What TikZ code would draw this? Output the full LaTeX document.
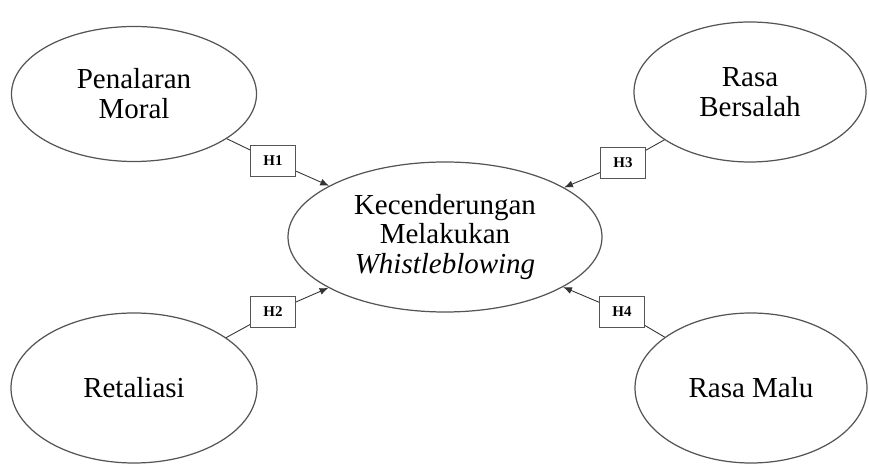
\documentclass[tikz,border=0pt]{standalone}
\usepackage{fontspec}
\setmainfont{Liberation Serif}
\usetikzlibrary{arrows.meta,shapes.geometric}
\definecolor{linegray}{HTML}{555555}

\begin{document}
\begin{tikzpicture}[
  construct/.style={ellipse, draw=linegray, line width=0.7pt, inner sep=0pt, align=center,
    font=\fontsize{16.5}{17}\selectfont},
  hyp/.style={rectangle, draw=linegray, fill=white, line width=0.6pt, minimum width=0.9cm,
    minimum height=0.62cm, inner sep=0pt, font=\fontsize{8.5}{9}\selectfont\bfseries},
  link/.style={draw=black!80, line width=0.5pt},
  arr/.style={link, -{Latex[length=5pt,width=4pt]}}
]
  \useasboundingbox (0,0) rectangle (17.38,9.3);
  % constructs
  \node[construct, minimum width=4.9cm, minimum height=2.7cm] (pm) at (2.68,7.42) {Penalaran\\Moral};
  \node[construct, minimum width=4.64cm, minimum height=2.8cm] (rb) at (15.0,7.46) {Rasa\\Bersalah};
  \node[construct, minimum width=6.28cm, minimum height=3.0cm] (kw) at (8.9,4.56) {Kecenderungan\\Melakukan\\\textit{Whistleblowing}};
  \node[construct, minimum width=4.92cm, minimum height=3.0cm] (re) at (2.68,1.54) {Retaliasi};
  \node[construct, minimum width=4.64cm, minimum height=3.0cm] (rm) at (15.02,1.54) {Rasa Malu};
  % hypotheses
  \node[hyp] (h1) at (5.46,6.08) {H1};
  \node[hyp] (h2) at (5.46,3.06) {H2};
  \node[hyp] (h3) at (12.46,6.04) {H3};
  \node[hyp] (h4) at (12.44,3.06) {H4};
  \draw[link] (pm) -- (h1);
  \draw[arr] (h1) -- (kw);
  \draw[link] (re) -- (h2);
  \draw[arr] (h2) -- (kw);
  \draw[link] (rb) -- (h3);
  \draw[arr] (h3) -- (kw);
  \draw[link] (rm) -- (h4);
  \draw[arr] (h4) -- (kw);
\end{tikzpicture}
\end{document}
